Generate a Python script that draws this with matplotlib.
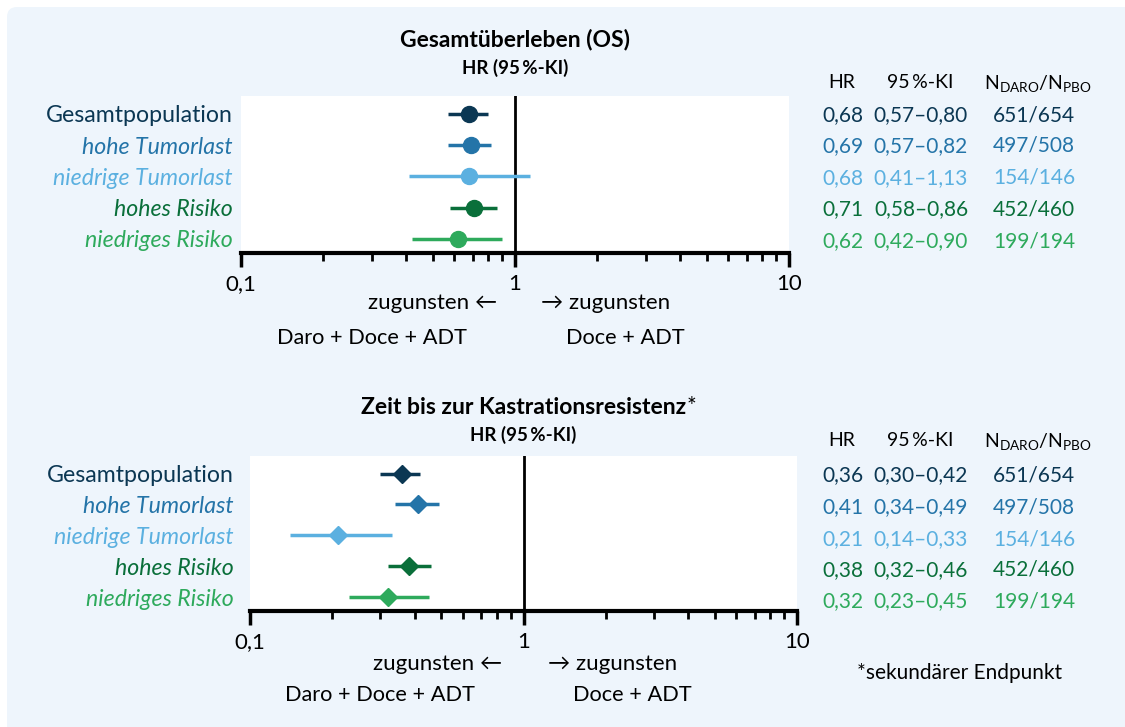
import matplotlib
matplotlib.use('Agg')
import matplotlib.pyplot as plt
from matplotlib.patches import FancyBboxPatch
from matplotlib.ticker import NullFormatter

plt.rcParams['font.family'] = ['Lato', 'DejaVu Sans']
plt.rcParams['mathtext.fontset'] = 'custom'
plt.rcParams['mathtext.rm'] = 'Lato'

# ---------------- data ----------------
groups = ['Gesamtpopulation', 'hohe Tumorlast', 'niedrige Tumorlast', 'hohes Risiko', 'niedriges Risiko']
group_colors = ['#0b3753', '#2474a8', '#5bb0e0', '#0a6f3a', '#2eaa5c']
group_italic = [False, True, True, True, True]

os_hr = [0.68, 0.69, 0.68, 0.71, 0.62]
os_lo = [0.57, 0.57, 0.41, 0.58, 0.42]
os_hi = [0.80, 0.82, 1.13, 0.86, 0.90]

crpc_hr = [0.36, 0.41, 0.21, 0.38, 0.32]
crpc_lo = [0.30, 0.34, 0.14, 0.32, 0.23]
crpc_hi = [0.42, 0.49, 0.33, 0.46, 0.45]

n_daro_pbo = ['651/654', '497/508', '154/146', '452/460', '199/194']

x_ticks = [0.1, 1, 10]
x_ticklabels = ['0,1', '1', '10']

# ---------------- figure ----------------
W, H = 1125, 727
fig = plt.figure(figsize=(W / 100, H / 100), dpi=100)
fig.patch.set_facecolor('white')

bg = FancyBboxPatch((0.07, -1.0), 13.0, 7.20 + 1.0,
                    boxstyle='round,pad=0,rounding_size=0.10',
                    transform=fig.dpi_scale_trans, facecolor='#eef5fc',
                    edgecolor='none', zorder=-10)
fig.patches.append(bg)


def fx(px):
    return px / W


def fy(py):
    return 1 - py / H


def fmt(v):
    return f'{v:.2f}'.replace('.', ',')


def panel(l, t, r, b, hr, lo, hi, marker, ms, title, title_y, star,
          table_header_y, table_rows_y, arrow_y, arm_y, left_arm_x, right_arm_x,
          left_arrow_x, right_arrow_x, ypad):
    ax = fig.add_axes([fx(l), fy(b), fx(r - l), (b - t) / H])
    ax.set_facecolor('white')
    ax.set_xscale('log')
    ax.set_xlim(0.1, 10)
    ax.set_ylim(4.45, -0.57)
    for i in range(len(groups)):
        ax.plot([lo[i], hi[i]], [i, i], color=group_colors[i], lw=2.5,
                solid_capstyle='butt', zorder=3)
        ax.plot([hr[i]], [i], marker=marker, ms=ms, color=group_colors[i],
                mec=group_colors[i], zorder=4, linestyle='none')
    ax.axvline(1, color='black', lw=2, zorder=2)
    for s in ['top', 'right', 'left']:
        ax.spines[s].set_visible(False)
    ax.spines['bottom'].set_linewidth(3)
    ax.set_xticks(x_ticks)
    ax.set_xticklabels(x_ticklabels)
    ax.xaxis.set_minor_formatter(NullFormatter())
    ax.tick_params(axis='x', which='major', length=10, width=2.5, labelsize=16,
                   pad=5, color='black')
    ax.tick_params(axis='x', which='minor', length=6, width=2, color='black')
    ax.set_yticks(range(len(groups)))
    ax.set_yticklabels(groups)
    ax.tick_params(axis='y', length=0, pad=ypad, labelsize=16.7)
    for lab, c, it in zip(ax.get_yticklabels(), group_colors, group_italic):
        lab.set_color(c)
        lab.set_fontstyle('italic' if it else 'normal')

    cx = (l + r) / 2
    tt = fig.text(fx(cx), fy(title_y), title, ha='center', va='center',
                  fontsize=16.5, fontweight='bold', color='black')
    if star:
        ax.annotate('*', xy=(1, 1), xycoords=tt, ha='left', va='top',
                    fontsize=16.5, color='black', annotation_clip=False)
    fig.text(fx(cx), fy(title_y + 28), 'HR (95\u2009%-KI)', ha='center', va='center',
             fontsize=13.5, fontweight='bold', color='black',
             family=['Lato', 'DejaVu Sans'])

    # table
    fig.text(fx(842), fy(table_header_y), 'HR', ha='center', va='center', fontsize=14)
    fig.text(fx(920), fy(table_header_y), '95\u2009%-KI', ha='center', va='center',
             fontsize=14, family=['Lato', 'DejaVu Sans'])
    fig.text(fx(1038), fy(table_header_y + 2), r'N$_\mathrm{DARO}$/N$_\mathrm{PBO}$',
             ha='center', va='center', fontsize=14)
    for i, yy in enumerate(table_rows_y):
        c = group_colors[i]
        fig.text(fx(843), fy(yy), fmt(hr[i]), ha='center', va='center', fontsize=15, color=c)
        fig.text(fx(921), fy(yy), fmt(lo[i]) + '\u2013' + fmt(hi[i]), ha='center',
                 va='center', fontsize=15, color=c)
        fig.text(fx(1034), fy(yy), n_daro_pbo[i], ha='center', va='center',
                 fontsize=15, color=c)

    # favour labels
    fig.text(fx(left_arrow_x), fy(arrow_y), 'zugunsten \u2190', ha='right', va='center',
             fontsize=16, family=['Lato', 'DejaVu Sans'])
    fig.text(fx(right_arrow_x), fy(arrow_y), '\u2192 zugunsten', ha='left', va='center',
             fontsize=16, family=['Lato', 'DejaVu Sans'])
    fig.text(fx(left_arm_x), fy(arm_y), 'Daro + Doce + ADT', ha='center', va='center',
             fontsize=15.7)
    fig.text(fx(right_arm_x), fy(arm_y), 'Doce + ADT', ha='center', va='center',
             fontsize=15.7)
    return ax


panel(241, 96, 789, 253, os_hr, os_lo, os_hi, 'o', 11.5,
      'Gesamtüberleben (OS)', 40, False, 82, [115, 146, 178, 209, 241],
      303, 338, 372, 625, 497, 541, 6)

panel(250, 456, 797, 611, crpc_hr, crpc_lo, crpc_hi, 'D', 9.5,
      'Zeit bis zur Kastrationsresistenz', 407, True, 440, [475, 507, 539, 570, 601],
      664, 695, 380, 632, 502, 548, 12)

fig.text(fx(960), fy(673), '*sekundärer Endpunkt', ha='center', va='center', fontsize=15)

fig.savefig('out.png', dpi=100)
